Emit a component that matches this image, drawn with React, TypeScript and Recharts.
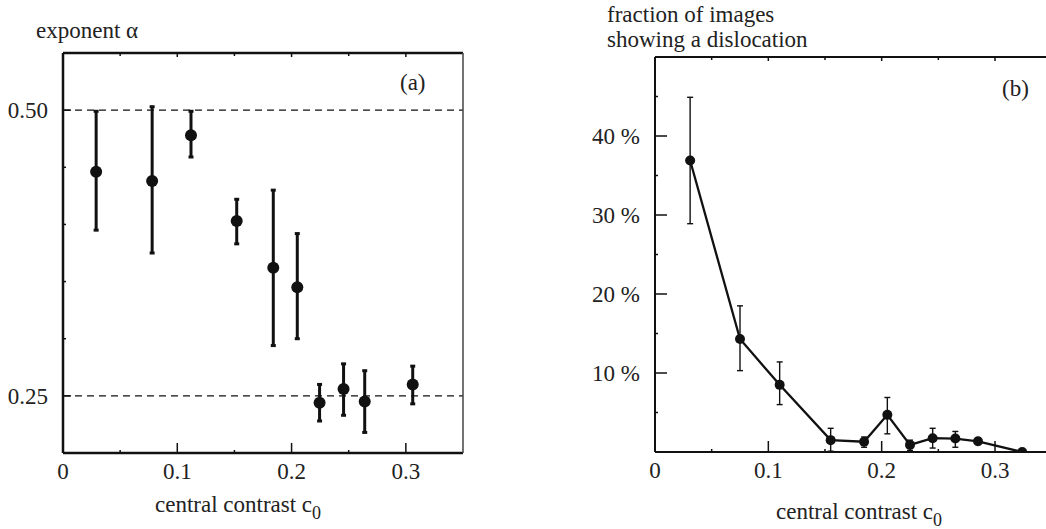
import React from "react";
import { ComposedChart, Scatter, ErrorBar, XAxis, YAxis, ReferenceLine } from "recharts";

const FONT = "Liberation Serif";
const INK = "#111";
const FS = 23;

// panel (a): exponent alpha vs central contrast
const A_X = [0.029, 0.078, 0.112, 0.152, 0.184, 0.205, 0.2245, 0.2455, 0.264, 0.306];
const A_Y = [0.446, 0.438, 0.478, 0.403, 0.362, 0.345, 0.244, 0.256, 0.245, 0.26];
const A_LO = [0.395, 0.375, 0.459, 0.383, 0.294, 0.3, 0.228, 0.233, 0.218, 0.243];
const A_HI = [0.499, 0.503, 0.499, 0.422, 0.43, 0.392, 0.26, 0.278, 0.272, 0.276];
const A_XTICKS = [0, 0.05, 0.1, 0.15, 0.2, 0.25, 0.3];
const A_YTICKS = [0.25, 0.3, 0.35, 0.4, 0.45, 0.5];
const A_YLABELS: Record<string, string> = { "0.25": "0.25", "0.5": "0.50" };
const A_DASHED = [0.5, 0.25];

// panel (b): fraction of images showing a dislocation (%)
const B_X = [0.031, 0.075, 0.11, 0.155, 0.1845, 0.205, 0.225, 0.245, 0.265, 0.285, 0.324];
const B_Y = [36.9, 14.3, 8.5, 1.5, 1.3, 4.7, 0.9, 1.75, 1.7, 1.35, 0];
const B_LO = [28.9, 10.3, 6.0, 0.1, 0.6, 2.3, 0.2, 0.5, 0.6, 0.95, 0];
const B_HI = [44.9, 18.5, 11.4, 3.0, 1.9, 6.9, 1.5, 3.0, 2.6, 1.75, 0];
const B_XTICKS = [0, 0.05, 0.1, 0.15, 0.2, 0.25, 0.3];
const B_YTICKS = [5, 10, 15, 20, 25, 30, 35, 40, 45];
const B_YLABELS: Record<string, string> = { "10": "10 %", "20": "20 %", "30": "30 %", "40": "40 %" };

const X_LABELS: Record<string, string> = { "0": "0", "0.1": "0.1", "0.2": "0.2", "0.3": "0.3" };

const aRows = A_X.map((x, i) => ({ x, y: A_Y[i], err: [A_Y[i] - A_LO[i], A_HI[i] - A_Y[i]] }));
const bRows = B_X.map((x, i) => ({ x, y: B_Y[i], err: [B_Y[i] - B_LO[i], B_HI[i] - B_Y[i]] }));

const key = (v: number) => String(Math.round(v * 1000) / 1000);
const txt = { fontFamily: FONT, fontSize: FS, fill: "#222" };

// ticks drawn inward from the frame, labels only on the major ones
function XTick(props: any) {
  const { x, y, payload, dir, major, minor, labels } = props;
  const lab = labels ? labels[key(payload.value)] : undefined;
  const isMajor = Math.abs(payload.value * 10 - Math.round(payload.value * 10)) < 1e-6;
  const len = isMajor ? major : minor;
  return (
    <g>
      <line x1={x} x2={x} y1={y} y2={y - dir * len} stroke={INK} strokeWidth={1.5} />
      {lab !== undefined && (
        <text x={x} y={y + 26} textAnchor="middle" style={txt}>
          {lab}
        </text>
      )}
    </g>
  );
}

function YTick(props: any) {
  const { x, y, payload, dir, major, minor, labels, isMajor } = props;
  const lab = labels ? labels[key(payload.value)] : undefined;
  const len = isMajor(payload.value) ? major : minor;
  return (
    <g>
      <line x1={x} x2={x + dir * len} y1={y} y2={y} stroke={INK} strokeWidth={1.5} />
      {lab !== undefined && (
        <text x={x - 15} y={y + 8} textAnchor="end" style={txt}>
          {lab}
        </text>
      )}
    </g>
  );
}

const dot = (r: number) => (p: any) => <circle cx={p.cx} cy={p.cy} r={r} fill={INK} />;

function PanelA() {
  return (
    <ComposedChart width={480} height={529} data={aRows} margin={{ top: 52, right: 16, bottom: 75, left: 62 }}>
      <XAxis
        dataKey="x"
        type="number"
        domain={[0, 0.35]}
        ticks={A_XTICKS}
        interval={0}
        height={1}
        tickSize={0}
        tickMargin={0}
        tickLine={false}
        axisLine={{ stroke: INK, strokeWidth: 2.5 }}
        tick={(p: any) => <XTick {...p} dir={1} major={10} minor={3} labels={X_LABELS} />}
      />
      <XAxis
        xAxisId="top"
        orientation="top"
        dataKey="x"
        type="number"
        domain={[0, 0.35]}
        ticks={A_XTICKS}
        interval={0}
        height={1}
        tickSize={0}
        tickMargin={0}
        tickLine={false}
        axisLine={{ stroke: INK, strokeWidth: 2.5 }}
        tick={(p: any) => <XTick {...p} dir={-1} major={4} minor={3} />}
      />
      <YAxis
        dataKey="y"
        type="number"
        domain={[0.2, 0.55]}
        allowDataOverflow
        ticks={A_YTICKS}
        interval={0}
        width={1}
        tickSize={0}
        tickMargin={0}
        tickLine={false}
        axisLine={{ stroke: INK, strokeWidth: 2.5 }}
        tick={(p: any) => (
          <YTick {...p} dir={1} major={8} minor={3} labels={A_YLABELS} isMajor={(v: number) => v === 0.25 || v === 0.5} />
        )}
      />
      <YAxis
        yAxisId="right"
        orientation="right"
        dataKey="y"
        type="number"
        domain={[0.2, 0.55]}
        width={1}
        tick={false}
        tickLine={false}
        axisLine={{ stroke: "#444", strokeWidth: 1.5 }}
      />
      {A_DASHED.map((v) => (
        <ReferenceLine key={v} y={v} stroke={INK} strokeWidth={1.2} strokeDasharray="7 5" />
      ))}
      <Scatter dataKey="y" fill={INK} shape={dot(6)} isAnimationActive={false}>
        <ErrorBar dataKey="err" direction="y" width={2.5} strokeWidth={3} stroke={INK} isAnimationActive={false} />
      </Scatter>
    </ComposedChart>
  );
}

function PanelB() {
  return (
    <ComposedChart width={506} height={529} data={bRows} margin={{ top: 56, right: 0, bottom: 76, left: 114 }}>
      <XAxis
        dataKey="x"
        type="number"
        domain={[0, 0.345]}
        allowDataOverflow
        ticks={B_XTICKS}
        interval={0}
        height={1}
        tickSize={0}
        tickMargin={0}
        tickLine={false}
        axisLine={{ stroke: INK, strokeWidth: 2 }}
        tick={(p: any) => <XTick {...p} dir={1} major={11} minor={3} labels={X_LABELS} />}
      />
      <XAxis
        xAxisId="top"
        orientation="top"
        dataKey="x"
        type="number"
        domain={[0, 0.345]}
        allowDataOverflow
        ticks={B_XTICKS}
        interval={0}
        height={1}
        tickSize={0}
        tickMargin={0}
        tickLine={false}
        axisLine={{ stroke: INK, strokeWidth: 2 }}
        tick={(p: any) => <XTick {...p} dir={-1} major={4} minor={3} />}
      />
      <YAxis
        dataKey="y"
        type="number"
        domain={[0, 50]}
        allowDataOverflow
        ticks={B_YTICKS}
        interval={0}
        width={1}
        tickSize={0}
        tickMargin={0}
        tickLine={false}
        axisLine={{ stroke: INK, strokeWidth: 2 }}
        tick={(p: any) => (
          <YTick {...p} dir={1} major={12} minor={3} labels={B_YLABELS} isMajor={(v: number) => v % 10 === 0} />
        )}
      />
      <Scatter
        dataKey="y"
        fill={INK}
        shape={dot(5)}
        line={{ stroke: INK, strokeWidth: 2.3 }}
        lineType="joint"
        isAnimationActive={false}
      >
        <ErrorBar dataKey="err" direction="y" width={3} strokeWidth={1.4} stroke={INK} isAnimationActive={false} />
      </Scatter>
    </ComposedChart>
  );
}

export default function App() {
  return (
    <div style={{ position: "absolute", left: 0, top: 0, width: 1046, height: 529, overflow: "hidden", background: "#fff" }}>
      <div style={{ position: "absolute", left: 0, top: 0 }}>
        <PanelA />
      </div>
      <div style={{ position: "absolute", left: 540, top: 0 }}>
        <PanelB />
      </div>
      <svg width={1046} height={529} style={{ position: "absolute", left: 0, top: 0, pointerEvents: "none" }}>
        <text x={36} y={38} style={txt}>exponent α</text>
        <text x={400} y={90} style={txt}>(a)</text>
        <text x={155} y={512} style={txt}>
          central contrast c<tspan style={{ fontSize: 18 }} dy={7}>0</tspan>
        </text>
        <text x={607} y={22} style={txt}>fraction of images</text>
        <text x={607} y={47} style={txt}>showing a dislocation</text>
        <text x={1002} y={96} style={txt}>(b)</text>
        <text x={776} y={519} style={txt}>
          central contrast c<tspan style={{ fontSize: 18 }} dy={7}>0</tspan>
        </text>
      </svg>
    </div>
  );
}
